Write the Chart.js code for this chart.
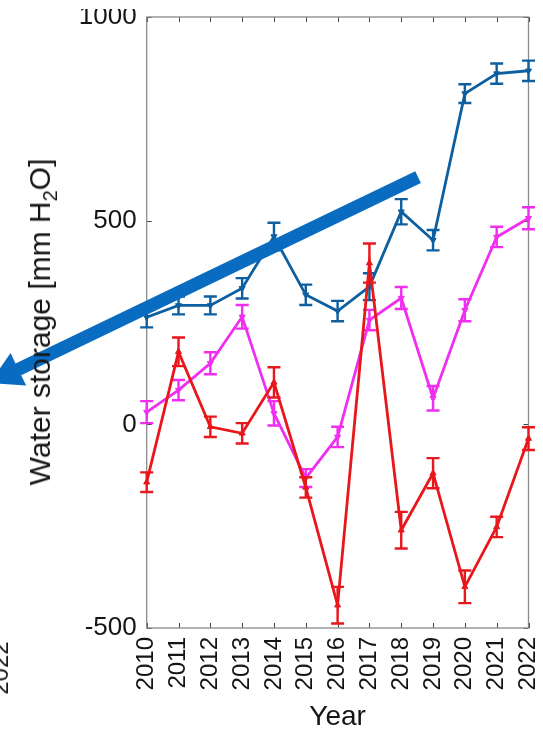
<!DOCTYPE html>
<html><head><meta charset="utf-8">
<script src="https://cdn.jsdelivr.net/npm/chart.js@4/dist/chart.umd.min.js"></script>
<style>
html,body{margin:0;padding:0;background:#fff;}
#wrap{position:relative;width:543px;height:734px;overflow:hidden;background:#fff;}
#c{position:absolute;left:0;top:0;}
.ytitle{position:absolute;left:40px;top:322px;transform:translate(-50%,-50%) rotate(-90deg);font:30px "Liberation Sans",Arial,sans-serif;white-space:nowrap;color:#151515;}
.ytitle sub{font-size:20px;vertical-align:-7px;line-height:0;}
.frag{position:absolute;left:0px;top:668px;transform:translate(-50%,-50%) rotate(-90deg);font:24px "Liberation Sans",Arial,sans-serif;white-space:nowrap;color:#151515;}
.cover{position:absolute;left:70px;top:0;width:74px;height:9px;background:#fff;}
</style>
</head><body>
<div id="wrap">
<canvas id="c" width="543" height="734"></canvas>
<div class="ytitle">Water storage [mm H<sub>2</sub>O]</div>
<div class="frag">2022</div>
<div class="cover"></div>
</div>
<script>
// ---- data ----
const years = [2010,2011,2012,2013,2014,2015,2016,2017,2018,2019,2020,2021,2022];
const blueVals = [263,292,292,334,461,318,278,338,522,452,812,861,868];
const blueErr  = [25,22,22,25,34,25,25,33,31,25,23,25,25];
const magentaVals = [30,84,150,264,27,-132,-31,256,310,64,280,460,506];
const magentaErr  = [27,25,27,29,30,22,25,25,27,30,27,25,27];
const redVals = [-142,178,-6,-22,103,-155,-444,396,-260,-120,-399,-252,-35];
const redErr  = [24,35,25,25,37,25,45,48,45,37,40,25,28];
const yTicks = [-500,0,500,1000];

// annotation arrow (in data units: [year, value])
const arrowFrom = [2018.53, 607];
const arrowTo   = [2005.06, 101];

const FONT = '"Liberation Sans", Arial, sans-serif';
const C_BLUE = '#0d5fa0', C_MAG = '#f02ef0', C_RED = '#e8171c', C_ARROW = '#0a6cc0';

function pts(vals){ return years.map((y,i)=>({x:y, y:vals[i]})); }
const errSets = [redErr, magentaErr, blueErr];

const errorBars = {
  id:'errorBars',
  afterDatasetDraw(chart, args){
    const i = args.index, ds = chart.data.datasets[i], errs = errSets[i];
    const ys = chart.scales.y, ctx = chart.ctx;
    ctx.save();
    ctx.strokeStyle = ds.borderColor; ctx.lineWidth = 2.4;
    args.meta.data.forEach((pt,j)=>{
      const v = ds.data[j].y;
      const t = ys.getPixelForValue(v+errs[j]), b = ys.getPixelForValue(v-errs[j]);
      const x = pt.x;
      ctx.beginPath();
      ctx.moveTo(x,t); ctx.lineTo(x,b);
      ctx.moveTo(x-6.5,t); ctx.lineTo(x+6.5,t);
      ctx.moveTo(x-6.5,b); ctx.lineTo(x+6.5,b);
      ctx.stroke();
    });
    ctx.restore();
  }
};

const boxTicks = {
  id:'boxTicks',
  beforeDatasetsDraw(chart){
    const {ctx, chartArea:a, scales:{x,y}} = chart;
    ctx.save();
    ctx.strokeStyle = '#444'; ctx.lineWidth = 1;
    ctx.beginPath();
    years.forEach(v=>{ const px = Math.round(x.getPixelForValue(v))+0.5;
      ctx.moveTo(px,a.bottom); ctx.lineTo(px,a.bottom-5);
      ctx.moveTo(px,a.top); ctx.lineTo(px,a.top+5); });
    yTicks.forEach(v=>{ const py = Math.round(y.getPixelForValue(v))+0.5;
      ctx.moveTo(a.left,py); ctx.lineTo(a.left+5,py);
      ctx.moveTo(a.right,py); ctx.lineTo(a.right-5,py); });
    ctx.stroke();
    ctx.strokeStyle = '#8a8a8a'; ctx.lineWidth = 1.3;
    ctx.strokeRect(a.left, a.top, a.right-a.left, a.bottom-a.top);
    ctx.restore();
  }
};

const arrowPlugin = {
  id:'arrow',
  afterDraw(chart){
    const {ctx, scales:{x,y}} = chart;
    const x1 = x.getPixelForValue(arrowFrom[0]), y1 = y.getPixelForValue(arrowFrom[1]);
    const x2 = x.getPixelForValue(arrowTo[0]),   y2 = y.getPixelForValue(arrowTo[1]);
    const dx = x2-x1, dy = y2-y1, len = Math.hypot(dx,dy);
    const ux = dx/len, uy = dy/len, px = -uy, py = ux;
    const headLen = 32, headW = 18, shaftW = 13;
    const bx = x2 - ux*headLen, by = y2 - uy*headLen;
    ctx.save();
    ctx.fillStyle = C_ARROW;
    ctx.beginPath();
    ctx.moveTo(x1+px*shaftW/2, y1+py*shaftW/2);
    ctx.lineTo(bx+px*shaftW/2, by+py*shaftW/2);
    ctx.lineTo(bx+px*headW, by+py*headW);
    ctx.lineTo(x2, y2);
    ctx.lineTo(bx-px*headW, by-py*headW);
    ctx.lineTo(bx-px*shaftW/2, by-py*shaftW/2);
    ctx.lineTo(x1-px*shaftW/2, y1-py*shaftW/2);
    ctx.closePath();
    ctx.fill();
    ctx.restore();
  }
};

function mk(label, vals, color, rot){
  return {label, data:pts(vals), borderColor:color, backgroundColor:color,
    borderWidth:2.8, pointStyle:'triangle', pointRadius:3.5, pointRotation:rot,
    pointBorderWidth:1, tension:0, clip:false};
}

new Chart(document.getElementById('c'), {
  type:'line',
  data:{ datasets:[ mk('red', redVals, C_RED, 0), mk('magenta', magentaVals, C_MAG, 180), mk('blue', blueVals, C_BLUE, 180) ] },
  options:{
    responsive:false, animation:false, devicePixelRatio:1,
    layout:{ padding:{ left:0, top:17, right:14.5, bottom:0 } },
    plugins:{ legend:{display:false}, tooltip:{enabled:false} },
    scales:{
      x:{ type:'linear', min:2010, max:2022,
        ticks:{ stepSize:1, autoSkip:false, maxRotation:90, minRotation:90, padding:9,
          font:{size:24, family:FONT}, color:'#151515', callback:v=>String(v) },
        grid:{display:false, drawTicks:false}, border:{display:false},
        title:{display:true, text:'Year', font:{size:28, family:FONT}, color:'#151515', padding:{top:0,bottom:0}},
        afterFit(s){ s.height = 106; s.paddingLeft = 0; s.paddingRight = 0; } },
      y:{ min:-500, max:1000,
        afterBuildTicks(s){ s.ticks = yTicks.map(v=>({value:v})); },
        ticks:{ padding:10, font:{size:26, family:FONT}, color:'#151515', callback:v=>String(v) },
        grid:{display:false, drawTicks:false}, border:{display:false},
        afterFit(s){ s.width = 146.7; s.paddingTop = 0; s.paddingBottom = 0; } }
    }
  },
  plugins:[boxTicks, errorBars, arrowPlugin]
});
</script>
</body></html>
